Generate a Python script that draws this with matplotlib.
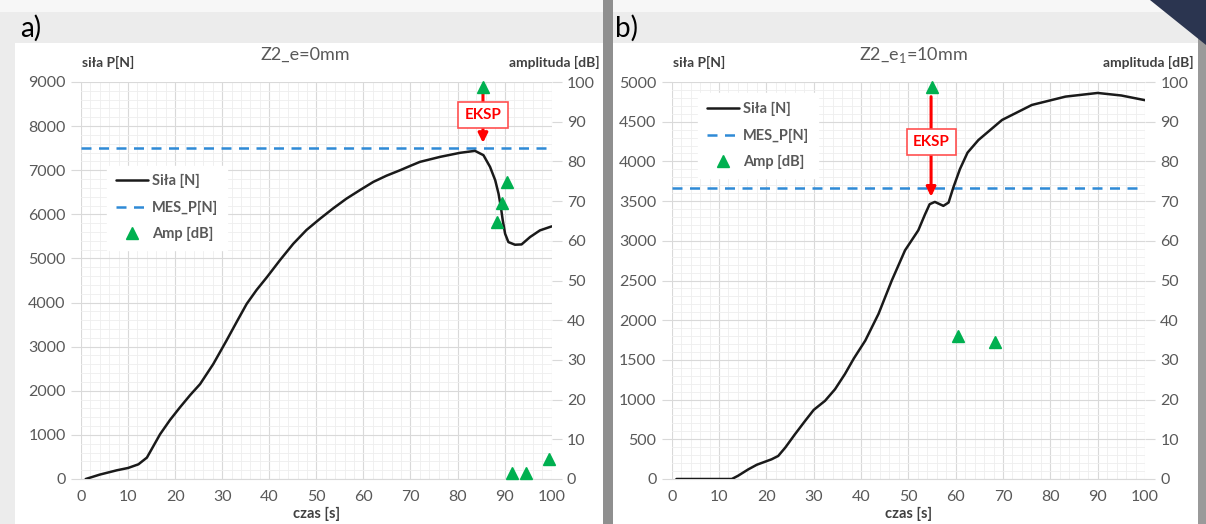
import matplotlib
matplotlib.use('Agg')
import matplotlib.pyplot as plt
from matplotlib.patches import Rectangle, Polygon
from matplotlib.ticker import MultipleLocator

plt.rcParams['font.family'] = ['Lato', 'DejaVu Sans']
plt.rcParams['mathtext.fontset'] = 'custom'
plt.rcParams['mathtext.rm'] = 'Lato'

# ---------- dane: panel a) ----------
czas_a = [1, 4, 7.6, 10, 12.2, 14, 16.8, 18.9, 21, 23.2, 25.3, 28.1, 30.9, 33.1, 35.2,
          37.3, 39.5, 42.3, 45.1, 47.9, 50.8, 53.6, 56.4, 59.3, 62.1, 64.9, 67.8,
          69.9, 72, 76.3, 80.5, 83.7, 85.5, 86.9, 88, 88.7, 89.2, 89.6, 90.1, 90.8,
          92.2, 93.6, 95.4, 97.5, 100]
sila_a = [0, 100, 197, 250, 333, 485, 1015, 1337, 1621, 1904, 2152, 2606, 3136, 3566,
          3970, 4285, 4576, 4965, 5333, 5645, 5902, 6137, 6356, 6552, 6735, 6876, 7000,
          7096, 7189, 7303, 7394, 7439, 7341, 7076, 6773, 6470, 6167, 5864, 5561, 5371,
          5311, 5318, 5485, 5636, 5727]
mes_a = 7500
amp_t_a = [85.5, 88.4, 89.4, 90.6, 91.5, 94.5, 99.5]
amp_db_a = [98.8, 64.8, 69.6, 74.9, 1.4, 1.4, 5.0]
eksp_a = 85.4

# ---------- dane: panel b) ----------
czas_b = [1, 5, 10, 12.7, 14, 16.2, 18, 21.1, 22.5, 24, 26, 28.2, 30, 32.4, 34.5,
          36.6, 38.5, 40.9, 43.7, 46.5, 49.3, 52.1, 53.5, 54.5, 55.6, 57.4, 58.5,
          59.5, 60.9, 62.5, 64.8, 69.8, 76.1, 83.2, 90, 95, 100]
sila_b = [0, 0, 0, 0, 40, 122, 180, 248, 290, 396, 560, 733, 870, 985, 1130, 1322,
          1520, 1743, 2080, 2500, 2880, 3132, 3330, 3461, 3490, 3440, 3482, 3671,
          3903, 4110, 4269, 4522, 4711, 4816, 4862, 4830, 4771]
mes_b = 3670
amp_t_b = [55.0, 60.5, 68.4]
amp_db_b = [98.8, 36.0, 34.4]
eksp_b = 54.8

GREY = '#595959'

fig = plt.figure(figsize=(12.06, 5.24), dpi=100)
fig.patch.set_facecolor('#ececec')

# tło kart (jak w oryginalnym zrzucie)
W, H = 1206, 524
tla = [
    Rectangle((0, 1 - 12 / H), 1, 12 / H, facecolor='#f7f7f7'),
    Rectangle((15 / W, 0), 588 / W, 481 / H, facecolor='white'),
    Rectangle((603 / W, 0), 10 / W, 1, facecolor='#8f8f8f'),
    Rectangle((613 / W, 0), 585 / W, 481 / H, facecolor='white'),
    Rectangle((1198 / W, 0), 8 / W, 1, facecolor='#9a9a9a'),
    Polygon([(1150 / W, 1), (1, 1), (1, 1 - 45 / H)], closed=True, facecolor='#2b3550'),
]
for p in tla:
    p.set_transform(fig.transFigure)
    p.set_edgecolor('none')
    p.set_zorder(-5)
    fig.patches.append(p)


def rysuj(pos, czas, sila, mes, amp_t, amp_db, eksp, ymax, ymaj, ymin, tytul, tytul_x,
          leg_pos, eksp_y, box_y, litera, litera_x):
    ax = fig.add_axes(pos)
    ax.set_facecolor('none')
    ax.set_xlim(0, 100)
    ax.set_ylim(0, ymax)
    ax.xaxis.set_major_locator(MultipleLocator(10))
    ax.xaxis.set_minor_locator(MultipleLocator(2))
    ax.yaxis.set_major_locator(MultipleLocator(ymaj))
    ax.yaxis.set_minor_locator(MultipleLocator(ymin))
    ax.grid(which='major', color='#d9d9d9', lw=0.8)
    ax.grid(which='minor', color='#eeeeee', lw=0.6)
    ax.set_axisbelow(True)
    for s in ['top', 'right', 'left']:
        ax.spines[s].set_visible(False)
    ax.spines['bottom'].set_color('#d9d9d9')
    ax.tick_params(axis='x', which='both', length=0, labelsize=11.5, labelcolor=GREY, pad=8)
    ax.tick_params(axis='y', which='major', length=7, color='#d9d9d9', labelsize=11.5,
                   labelcolor=GREY, pad=4)
    ax.tick_params(axis='y', which='minor', length=0)

    l1, = ax.plot(czas, sila, color='#1a1a1a', lw=1.8, label='Siła [N]', zorder=3,
                  solid_joinstyle='round', solid_capstyle='round')
    l2 = ax.axhline(mes, color='#2f8ad6', lw=1.8, ls=(0, (4, 3)), label='MES_P[N]', zorder=2)

    ax2 = ax.twinx()
    ax2.set_ylim(0, 100)
    ax2.yaxis.set_major_locator(MultipleLocator(10))
    for s in ax2.spines.values():
        s.set_visible(False)
    ax2.tick_params(axis='y', length=7, color='#d9d9d9', labelsize=11.5, labelcolor=GREY, pad=4)
    l3, = ax2.plot(amp_t, amp_db, ls='none', marker='^', ms=8, color='#00b050',
                   label='Amp [dB]', clip_on=False, zorder=4)

    # strzałka EKSP
    ax.annotate('', xy=(eksp, eksp_y[1]), xytext=(eksp, eksp_y[0]),
                arrowprops=dict(arrowstyle='-|>', color='#ff0000', lw=2.2,
                                mutation_scale=14, shrinkA=0, shrinkB=0), zorder=5)
    ax.text(eksp, box_y, 'EKSP', color='#ff0000', fontsize=11, fontweight='bold',
            ha='center', va='center', zorder=6,
            bbox=dict(boxstyle='square,pad=0.4', facecolor='white', edgecolor='#ff5050', lw=1.2))

    leg = ax.legend(handles=[l1, l2, l3], loc='upper left', bbox_to_anchor=leg_pos,
                    frameon=True, fancybox=False, framealpha=1, edgecolor='white',
                    fontsize=10.5, handlelength=2.2, handletextpad=0.3, labelspacing=0.85,
                    borderpad=0.6)
    for t in leg.get_texts():
        t.set_color(GREY)
        t.set_fontweight('bold')
    leg.set_zorder(7)

    x0, y0, w, h = pos
    fig.text(tytul_x, 0.885, tytul, fontsize=13, color=GREY, ha='center')
    fig.text(x0 + 0.001, 0.872, 'siła P[N]', fontsize=10, color='#404040',
             fontweight='bold', ha='left')
    fig.text(x0 + w + 0.04, 0.872, 'amplituda [dB]', fontsize=10, color='#404040',
             fontweight='bold', ha='right')
    fig.text(x0 + w / 2, 0.012, 'czas [s]', fontsize=10.5, color='#404040',
             fontweight='bold', ha='center')
    fig.text(litera_x, 0.93, litera, fontsize=20, color='black', ha='left')
    return ax


rysuj([81 / W, 45 / H, 470.7 / W, 397 / H], czas_a, sila_a, mes_a, amp_t_a, amp_db_a,
      eksp_a, 9000, 1000, 200, 'Z2_e=0mm', 305 / W, (0.04, 0.808), (8820, 7620), 8250,
      'a)', 20 / W)
rysuj([671.7 / W, 45 / H, 473.3 / W, 397 / H], czas_b, sila_b, mes_b, amp_t_b, amp_db_b,
      eksp_b, 5000, 500, 100, r'Z2_e$_1$=10mm', 913 / W, (0.04, 0.99), (4815, 3555), 4244,
      'b)', 615 / W)

fig.savefig('out.png', dpi=100)
